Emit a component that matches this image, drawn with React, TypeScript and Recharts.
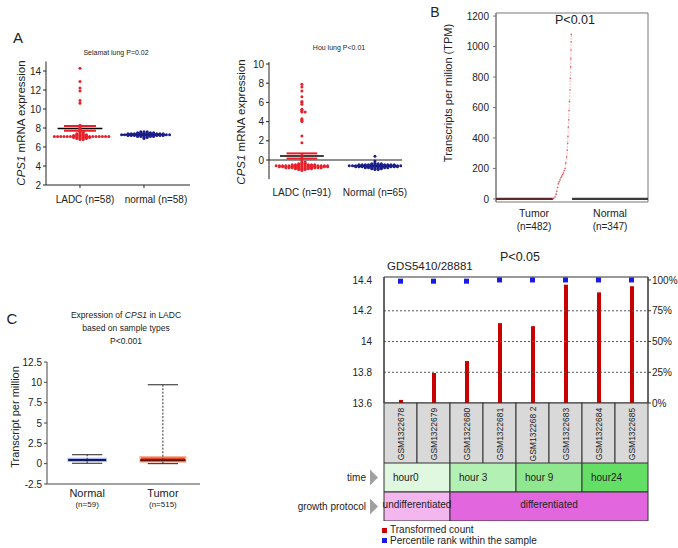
import React from 'react';
import {
  ScatterChart, Scatter, XAxis, YAxis, ReferenceLine, ReferenceArea,
  ComposedChart, Bar, Line, BarChart, LabelList,
} from 'recharts';

const FONT = '"Liberation Sans", Arial, Helvetica, sans-serif';

// ---------- Panel A (left): Selamat lung ----------
const selamatCats = ['LADC (n=58)', 'normal (n=58)'];
const selamatLADC = [
  14.3, 12.9, 12.2, 11.9, 10.9, 10.6,
  8.3, 8.1, 8.0, 7.9, 7.8, 7.7,
  7.6, 7.6, 7.5, 7.5, 7.4, 7.4, 7.4,
  7.3, 7.3, 7.3, 7.3,
  7.2, 7.2, 7.2, 7.2, 7.2,
  7.1, 7.1, 7.1, 7.1, 7.1, 7.1, 7.1, 7.1, 7.1, 7.1, 7.1, 7.1, 7.1, 7.1, 7.1, 7.1, 7.1, 7.1,
  7.0, 7.0, 7.0, 7.0, 7.0, 7.0,
  6.9, 6.9, 6.9, 6.9,
  6.8, 6.8,
];
const selamatNormal = [
  7.6, 7.6, 7.6,
  7.5, 7.5, 7.5, 7.5, 7.5, 7.5,
  7.4, 7.4, 7.4, 7.4, 7.4, 7.4, 7.4, 7.4, 7.4, 7.4, 7.4, 7.4,
  7.3, 7.3, 7.3, 7.3, 7.3, 7.3, 7.3, 7.3, 7.3, 7.3, 7.3, 7.3, 7.3, 7.3, 7.3, 7.3,
  7.2, 7.2, 7.2, 7.2, 7.2, 7.2, 7.2, 7.2, 7.2, 7.2, 7.2, 7.2,
  7.1, 7.1, 7.1, 7.1, 7.1, 7.1,
  7.0, 7.0,
  6.9,
];
const selamatMean = [7.95, 7.3];
const selamatSem = [0.25, 0.04];
const selamatTicks = [2, 4, 6, 8, 10, 12, 14];

// ---------- Panel A (right): Hou lung ----------
const houCats = ['LADC (n=91)', 'Normal (n=65)'];
const houLADC = [
  7.9, 7.6, 7.2, 6.6, 6.1, 6.0, 5.8, 5.3, 5.2, 5.1, 5.0, 5.0, 4.3, 4.2, 4.1, 4.0, 2.5, 1.8,
  0.5, 0.2, 0.0, -0.2, -0.2, -0.3, -0.3, -0.4, -0.4, -0.4,
  -0.5, -0.5, -0.5, -0.5, -0.5, -0.5, -0.5, -0.5,
  -0.6, -0.6, -0.6, -0.6, -0.6, -0.6, -0.6, -0.6, -0.6, -0.6, -0.6, -0.6, -0.6, -0.6, -0.6, -0.6, -0.6,
  -0.7, -0.7, -0.7, -0.7, -0.7, -0.7, -0.7, -0.7, -0.7, -0.7, -0.7, -0.7, -0.7, -0.7, -0.7, -0.7,
  -0.8, -0.8, -0.8, -0.8, -0.8, -0.8, -0.8, -0.8, -0.8, -0.8, -0.8, -0.8,
  -0.9, -0.9, -0.9, -0.9, -0.9, -0.9,
  -1.0, -1.0, -1.0,
  -1.1,
];
const houNormal = [
  0.4, -0.1, -0.3,
  -0.4, -0.4, -0.4, -0.4,
  -0.5, -0.5, -0.5, -0.5, -0.5, -0.5, -0.5, -0.5, -0.5, -0.5, -0.5, -0.5,
  -0.6, -0.6, -0.6, -0.6, -0.6, -0.6, -0.6, -0.6, -0.6, -0.6, -0.6, -0.6, -0.6, -0.6, -0.6, -0.6, -0.6, -0.6,
  -0.7, -0.7, -0.7, -0.7, -0.7, -0.7, -0.7, -0.7, -0.7, -0.7, -0.7, -0.7, -0.7, -0.7,
  -0.8, -0.8, -0.8, -0.8, -0.8, -0.8, -0.8, -0.8,
  -0.9, -0.9, -0.9, -0.9,
  -1.0, -1.0,
];
const houMean = [0.42, -0.62];
const houSem = [0.27, 0.03];
const houTicks = [0, 2, 4, 6, 8, 10];

// ---------- Panel B: TPM dot plot ----------
const bCats = ['Tumor', 'Normal'];
const bCounts = ['(n=482)', '(n=347)'];
const bTicks = [0, 200, 400, 600, 800, 1000, 1200];
const tumorZeroFrac = [0, 0.75];
const tumorRiseFrac = [0.75, 0.76, 0.776, 0.79, 0.8, 0.81, 0.82, 0.83, 0.842, 0.855, 0.866, 0.876, 0.886, 0.896, 0.908, 0.918, 0.93, 0.937, 0.943, 0.947, 0.951, 0.956, 0.961, 0.967, 0.974, 0.978, 0.983, 0.985, 0.987, 0.989, 0.991];
const tumorRiseTPM = [0, 5, 12, 30, 50, 75, 100, 112, 125, 140, 150, 160, 170, 185, 200, 235, 275, 320, 365, 410, 470, 520, 580, 640, 715, 790, 865, 920, 977, 1030, 1080];
const normalZeroFrac = [1, 2];

// ---------- Panel C: box plot ----------
const cCats = ['Normal', 'Tumor'];
const cCounts = ['(n=59)', '(n=515)'];
const cMin = [0.05, 0];
const cQ1 = [0.3, 0.2];
const cMed = [0.45, 0.42];
const cQ3 = [0.62, 0.85];
const cMax = [1.1, 9.7];
const cTicks = [-2.5, 0, 2.5, 5, 7.5, 10, 12.5];

// ---------- Panel D: GDS5410 ----------
const gsmIds = ['GSM1322678', 'GSM1322679', 'GSM1322680', 'GSM1322681', 'GSM132268 2', 'GSM1322683', 'GSM1322684', 'GSM1322685'];
const transformedCount = [13.62, 13.795, 13.873, 14.12, 14.1, 14.37, 14.32, 14.36];
const percentileRank = [99, 99, 99, 100, 100, 100, 100, 100];
const dTicks = [13.6, 13.8, 14, 14.2, 14.4];
const dGrid = [13.8, 14, 14.2];
const pctTicks = [0, 25, 50, 75, 100];
const timeNames = ['hour0', 'hour 3', 'hour 9', 'hour24'];
const timeSpans = [2, 2, 2, 2];
const timeColors = ['#dff8df', '#b3f0b3', '#8fe78f', '#64de64'];
const protocolNames = ['undifferentiated', 'differentiated'];
const protocolSpans = [2, 6];
const protocolColors = ['#f3b6ef', '#e266de'];

// ---------- helpers ----------
const swarm = (vals: number[], center: number, step: number) => {
  const seen = new Map<number, number>();
  return vals.map((v) => {
    const k = seen.get(v) ?? 0;
    seen.set(v, k + 1);
    const off = k === 0 ? 0 : (k % 2 ? 1 : -1) * Math.ceil(k / 2) * step;
    return { x: center + off, y: v };
  });
};

const dotShape = (color: string, r: number) => (p: any) =>
  p.cx == null ? <g /> : <circle cx={p.cx} cy={p.cy} r={r} fill={color} />;
const noShape = () => <g />;

const Txt = ({ x, y, size, children, rotate, anchor = 'center', weight, style }: any) => (
  <div
    style={{
      position: 'absolute', left: x, top: y, fontSize: size, lineHeight: 1, whiteSpace: 'nowrap',
      color: '#222', fontWeight: weight,
      transform: `${anchor === 'center' ? 'translate(-50%,-50%)' : 'translate(0,-50%)'}${rotate ? ` rotate(${rotate}deg)` : ''}`,
      ...style,
    }}
  >
    {children}
  </div>
);

const axisTick = { fontSize: 10, fill: '#222', fontFamily: FONT };

const CatTick = (cats: string[], dxs: number[], dy: number) => (p: any) => {
  const i = Math.round(p.payload.value) - 1;
  return (
    <text x={p.x + dxs[i]} y={p.y + dy} textAnchor="middle" fontSize={10} fill="#222" fontFamily={FONT}>{cats[i]}</text>
  );
};

const SwarmChart = ({ left, top, width, height, yW, mTop, mRight, xH, xDomain, yDomain, yTicks, cats, groups, colors, means, sems, zeroLine, step, meanHalf, semHalf, labelDx, labelDy }: any) => (
  <div style={{ position: 'absolute', left, top }}>
    <ScatterChart width={width} height={height} margin={{ top: mTop, right: mRight, left: 0, bottom: 0 }}>
      <XAxis
        type="number" dataKey="x" domain={xDomain} ticks={[1, 2]} allowDataOverflow
        height={xH} tick={CatTick(cats, labelDx, labelDy)}
        axisLine={!zeroLine} tickLine={!zeroLine} tickSize={zeroLine ? 0 : 3} tickMargin={0} stroke="#222"
      />
      <YAxis
        type="number" dataKey="y" domain={yDomain} ticks={yTicks} allowDataOverflow interval={0}
        width={yW} tick={axisTick} tickSize={3} tickMargin={2} stroke="#222"
      />
      {zeroLine && <ReferenceLine y={0} stroke="#222" strokeWidth={1.2} />}
      {groups.map((g: number[], i: number) => (
        <Scatter key={'s' + i} data={swarm(g, i + 1, step)} shape={dotShape(colors[i], 1.5)} isAnimationActive={false} />
      ))}
      {means.flatMap((m: number, i: number) => [
        <ReferenceLine key={'sv' + i} segment={[{ x: i + 1, y: m - sems[i] }, { x: i + 1, y: m + sems[i] }]} stroke={colors[i]} strokeWidth={1.5} />,
        <ReferenceLine key={'su' + i} segment={[{ x: i + 1 - semHalf, y: m + sems[i] }, { x: i + 1 + semHalf, y: m + sems[i] }]} stroke={colors[i]} strokeWidth={2} />,
        <ReferenceLine key={'sl' + i} segment={[{ x: i + 1 - semHalf, y: m - sems[i] }, { x: i + 1 + semHalf, y: m - sems[i] }]} stroke={colors[i]} strokeWidth={2} />,
        <ReferenceLine key={'m' + i} segment={[{ x: i + 1 - meanHalf, y: m }, { x: i + 1 + meanHalf, y: m }]} stroke="#000" strokeWidth={1.5} />,
      ])}
    </ScatterChart>
  </div>
);

const TwoLineTick = ({ names, counts, s1, s2, d1, d2 }: any) => (p: any) => {
  const i = p.index;
  return (
    <g>
      <text x={p.x} y={p.y + d1} textAnchor="middle" fontSize={s1} fill="#222" fontFamily={FONT}>{names[i]}</text>
      <text x={p.x} y={p.y + d2} textAnchor="middle" fontSize={s2} fill="#222" fontFamily={FONT}>{counts[i]}</text>
    </g>
  );
};

const D_BAND = (648 - 384) / gsmIds.length;

const GsmTick = (p: any) => {
  const { x, y, payload } = p;
  const cy = y + 31;
  return (
    <g>
      <rect x={x - D_BAND / 2} y={y} width={D_BAND} height={60} fill="#d9d9d9" stroke="#333" strokeWidth={1} />
      <text x={x + 3} y={cy} transform={`rotate(-90 ${x + 3} ${cy})`} textAnchor="middle" fontSize={8.5} fill="#222" fontFamily={FONT}>
        {payload.value}
      </text>
    </g>
  );
};

const RowTick = (p: any) => {
  const { y, payload } = p;
  return (
    <g>
      <text x={106} y={y + 3.5} textAnchor="end" fontSize={10} fill="#222" fontFamily={FONT}>{payload.value}</text>
      <polygon points={`110,${y - 8} 118,${y} 110,${y + 8}`} fill="#a0a0a0" />
    </g>
  );
};

export default function App() {
  const dData = gsmIds.map((g, i) => ({ gsm: g, count: transformedCount[i], pct: percentileRank[i] }));

  const timeRow: any = { row: 'time' };
  timeSpans.forEach((s, i) => { timeRow['t' + i] = s; });
  const protoRow: any = { row: 'growth protocol' };
  protocolSpans.forEach((s, i) => { protoRow['p' + i] = s; });
  const rowData = [timeRow, protoRow];

  const boxW = [0.25, 0.3];

  return (
    <div style={{ position: 'absolute', left: 0, top: 0, width: 678, height: 548, background: '#fff', fontFamily: FONT, overflow: 'hidden' }}>
      {/* Panel A */}
      <Txt x={18} y={37} size={15}>A</Txt>
      <Txt x={116} y={52} size={7}>Selamat lung P=0.02</Txt>
      <Txt x={22} y={123} size={11.5} rotate={-90}><i>CPS1</i> mRNA expression</Txt>
      <SwarmChart
        left={0} top={0} width={200} height={210} yW={46} mTop={61.5} mRight={10} xH={25}
        xDomain={[0.469, 2.719]} yDomain={[2, 15]} yTicks={selamatTicks} cats={selamatCats}
        groups={[selamatLADC, selamatNormal]} colors={['#e8202a', '#1c1f8c']}
        means={selamatMean} sems={selamatSem} zeroLine={false}
        step={0.05} meanHalf={0.35} semHalf={0.25} labelDx={[5, 12]} labelDy={15}
      />
      <Txt x={339} y={47} size={7}>Hou lung P&lt;0.01</Txt>
      <Txt x={242} y={122} size={11.5} rotate={-90}><i>CPS1</i> mRNA expression</Txt>
      <SwarmChart
        left={200} top={0} width={220} height={210} yW={69} mTop={62.1} mRight={18} xH={30.8}
        xDomain={[0.55, 2.37]} yDomain={[-2, 10.2]} yTicks={houTicks} cats={houCats}
        groups={[houLADC, houNormal]} colors={['#e8202a', '#1c1f8c']}
        means={houMean} sems={houSem} zeroLine={true}
        step={0.044} meanHalf={0.3} semHalf={0.21} labelDx={[0, 0]} labelDy={17}
      />

      {/* Panel B */}
      <Txt x={435} y={12} size={14}>B</Txt>
      <Txt x={448} y={93} size={11} rotate={-90}>Transcripts per milion (TPM)</Txt>
      <div style={{ position: 'absolute', left: 400, top: 0 }}>
        <ScatterChart width={278} height={240} margin={{ top: 13, right: 30, left: 0, bottom: 0 }}>
          <XAxis
            type="number" dataKey="x" domain={[0, 2]} ticks={[0.5, 1.5]} height={38} allowDataOverflow
            axisLine={false} tickLine={false} tickSize={0} tickMargin={0}
            tick={TwoLineTick({ names: bCats, counts: bCounts, s1: 10.5, s2: 10, d1: 15, d2: 28 })}
          />
          <YAxis
            type="number" dataKey="y" domain={[-20, 1220]} ticks={bTicks} interval={0} allowDataOverflow
            width={96} tick={axisTick} tickSize={3} tickMargin={4} stroke="#777"
          />
          <ReferenceArea x1={0} x2={2} y1={-20} y2={1220} fill="none" stroke="#777" strokeWidth={1} />
          <Scatter
            data={tumorZeroFrac.map((f) => ({ x: f, y: 0 }))} shape={noShape}
            line={{ stroke: '#5a2a2a', strokeWidth: 2.2 }} isAnimationActive={false}
          />
          <Scatter
            data={normalZeroFrac.map((f) => ({ x: f, y: 0 }))} shape={noShape}
            line={{ stroke: '#3a3a3a', strokeWidth: 2.2 }} isAnimationActive={false}
          />
          <Scatter
            data={tumorRiseFrac.map((f, i) => ({ x: f, y: tumorRiseTPM[i] }))}
            shape={dotShape('#e0525a', 0.8)}
            line={{ stroke: '#ec8a8f', strokeWidth: 0.7, strokeDasharray: '1.5 1.5' }} isAnimationActive={false}
          />
        </ScatterChart>
      </div>
      <Txt x={575} y={20} size={12.5}>P&lt;0.01</Txt>

      {/* Panel C */}
      <Txt x={12} y={318} size={15}>C</Txt>
      <Txt x={126} y={315} size={8.5}>Expression of <i>CPS1</i> in LADC</Txt>
      <Txt x={126} y={328} size={8.5}>based on sample types</Txt>
      <Txt x={126} y={341} size={8.5}>P&lt;0.001</Txt>
      <Txt x={15} y={417} size={11} rotate={-90}>Transcript per million</Txt>
      <div style={{ position: 'absolute', left: 0, top: 340 }}>
        <ScatterChart width={220} height={190} margin={{ top: 22, right: 20, left: 0, bottom: 0 }}>
          <XAxis
            type="number" dataKey="x" domain={[0.47, 2.49]} ticks={[1, 2]} height={46} allowDataOverflow
            tickLine={false} tickSize={0} tickMargin={0} stroke="#444"
            tick={TwoLineTick({ names: cCats, counts: cCounts, s1: 11, s2: 8, d1: 13, d2: 23 })}
          />
          <YAxis
            type="number" dataKey="y" domain={[-2.5, 12.5]} ticks={cTicks} interval={0} allowDataOverflow
            width={47} tick={axisTick} tickSize={3} tickMargin={2} stroke="#444"
          />
          <Scatter data={cMed.map((m, i) => ({ x: i + 1, y: m }))} shape={noShape} isAnimationActive={false} />
          {cCats.flatMap((_, i) => {
            const xc = i + 1;
            const w = boxW[i];
            const isT = i === 1;
            return [
              <ReferenceLine key={'wv' + i} segment={[{ x: xc, y: cMin[i] }, { x: xc, y: cMax[i] }]} stroke="#333" strokeWidth={1} strokeDasharray="2 1.5" />,
              <ReferenceLine key={'wt' + i} segment={[{ x: xc - 0.2, y: cMax[i] }, { x: xc + 0.2, y: cMax[i] }]} stroke="#222" strokeWidth={1} />,
              <ReferenceLine key={'wb' + i} segment={[{ x: xc - 0.2, y: cMin[i] }, { x: xc + 0.2, y: cMin[i] }]} stroke="#222" strokeWidth={1} />,
              <ReferenceArea key={'bx' + i} x1={xc - w} x2={xc + w} y1={cQ1[i]} y2={cQ3[i]}
                fill={isT ? '#e8461e' : '#2a3b9c'} fillOpacity={1} stroke={isT ? '#f6b49e' : '#aab8ec'} strokeWidth={1.5} />,
              <ReferenceLine key={'md' + i} segment={[{ x: xc - w, y: cMed[i] }, { x: xc + w, y: cMed[i] }]} stroke={isT ? '#5a1408' : '#0e1a5e'} strokeWidth={2} />,
            ];
          })}
        </ScatterChart>
      </div>

      {/* Panel D */}
      <Txt x={520} y={257} size={12.5}>P&lt;0.05</Txt>
      <Txt x={387} y={267} size={11.5} anchor="left">GDS5410/28881</Txt>
      <div style={{ position: 'absolute', left: 300, top: 250 }}>
        <ComposedChart width={378} height={213} data={dData} margin={{ top: 27, right: 0, left: 0, bottom: 0 }}>
          <XAxis dataKey="gsm" type="category" interval={0} height={60} axisLine={false} tickLine={false} tickSize={0} tickMargin={0} tick={GsmTick} />
          <YAxis
            yAxisId="left" type="number" domain={[13.6, 14.42]} ticks={dTicks} interval={0} allowDataOverflow
            width={84} tickLine={false} tickMargin={6} tick={axisTick} stroke="#333"
            tickFormatter={(v: number) => String(Math.round(v * 10) / 10)}
          />
          <YAxis
            yAxisId="pct" orientation="right" type="number" domain={[0, 102.4]} ticks={pctTicks} interval={0}
            width={30} tickSize={3} tickMargin={1} tick={axisTick} stroke="#333"
            tickFormatter={(v: number) => `${v}%`}
          />
          {dGrid.map((g) => (
            <ReferenceLine key={g} yAxisId="left" y={g} stroke="#555" strokeDasharray="2 2" strokeWidth={1} />
          ))}
          <ReferenceArea yAxisId="left" y1={13.6} y2={14.42} fill="none" stroke="#333" strokeWidth={1} />
          <Bar yAxisId="left" dataKey="count" fill="#c80000" barSize={4} isAnimationActive={false} />
          <Line
            yAxisId="pct" dataKey="pct" stroke="none" isAnimationActive={false}
            dot={(p: any) => <rect key={'d' + p.index} x={p.cx - 2.5} y={p.cy - 2.5} width={5} height={5} fill="#1a1ae6" />}
          />
        </ComposedChart>
      </div>
      <div style={{ position: 'absolute', left: 260, top: 463 }}>
        <BarChart width={418} height={58} data={rowData} layout="vertical" barCategoryGap={0} margin={{ top: 0, right: 30, left: 0, bottom: 0 }}>
          <XAxis type="number" domain={[0, 8]} hide />
          <YAxis type="category" dataKey="row" width={124} axisLine={false} tickLine={false} tick={RowTick} />
          {timeNames.map((n, i) => (
            <Bar key={'t' + i} dataKey={'t' + i} stackId="a" fill={timeColors[i]} stroke="#333" strokeWidth={1} isAnimationActive={false}>
              <LabelList
                dataKey={'t' + i}
                content={(p: any) => (p.value ? (
                  <text x={p.x + 9} y={p.y + p.height / 2 + 3.5} fontSize={10} fill="#222" fontFamily={FONT}>{n}</text>
                ) : null)}
              />
            </Bar>
          ))}
          {protocolNames.map((n, i) => (
            <Bar key={'p' + i} dataKey={'p' + i} stackId="a" fill={protocolColors[i]} stroke="#333" strokeWidth={1} isAnimationActive={false}>
              <LabelList
                dataKey={'p' + i}
                content={(p: any) => (p.value ? (
                  <text x={p.x + p.width / 2} y={p.y + p.height / 2 + 1} textAnchor="middle" fontSize={10} fill="#222" fontFamily={FONT}>{n}</text>
                ) : null)}
              />
            </Bar>
          ))}
        </BarChart>
      </div>
      <div style={{ position: 'absolute', left: 382, top: 528, width: 5, height: 5, background: '#c80000' }} />
      <Txt x={390} y={530} size={10} anchor="left">Transformed count</Txt>
      <div style={{ position: 'absolute', left: 382, top: 538, width: 5, height: 5, background: '#1a1ae6' }} />
      <Txt x={390} y={540.5} size={10} anchor="left">Percentile rank within the sample</Txt>
    </div>
  );
}
